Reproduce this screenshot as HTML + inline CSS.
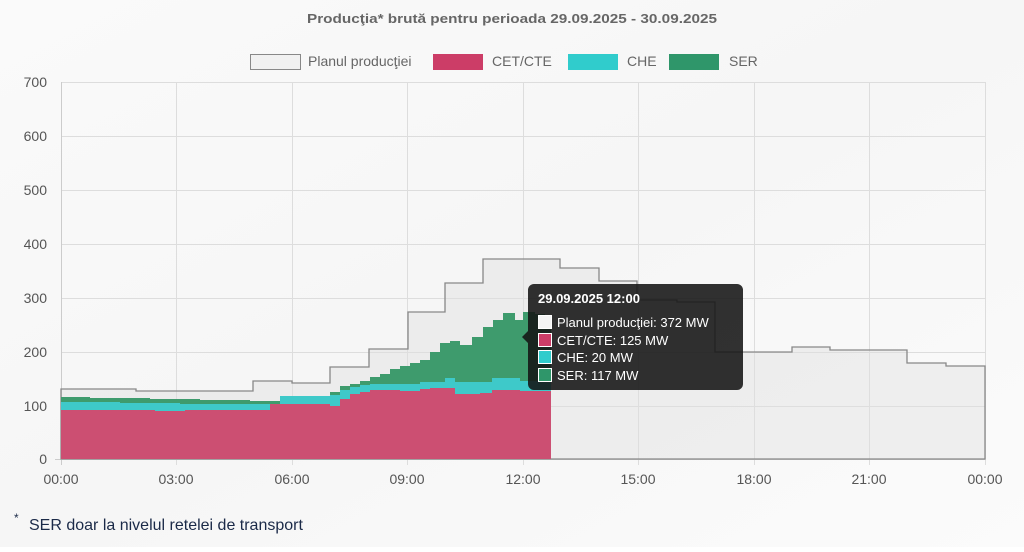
<!DOCTYPE html>
<html><head><meta charset="utf-8"><style>
html,body{margin:0;padding:0;background:#fff;}
body{width:1024px;height:547px;overflow:hidden;font-family:"Liberation Sans",sans-serif;}
</style></head><body>
<svg width="1024" height="547" viewBox="0 0 1024 547" xmlns="http://www.w3.org/2000/svg" font-family="Liberation Sans, sans-serif">
<defs>
<linearGradient id="bg" x1="0" y1="0" x2="1" y2="1">
<stop offset="0" stop-color="#fafafa"/><stop offset="0.5" stop-color="#f6f6f6"/><stop offset="1" stop-color="#fbfbfb"/>
</linearGradient>
</defs>
<rect width="1024" height="547" fill="url(#bg)"/>
<text x="512" y="23" text-anchor="middle" font-size="13" font-weight="bold" fill="#666" textLength="410" lengthAdjust="spacingAndGlyphs">Producţia* brută pentru perioada 29.09.2025 - 30.09.2025</text>
<!-- legend -->
<rect x="250.5" y="54.5" width="50" height="15" fill="#f1f1f1" stroke="#888"/>
<text x="308" y="66" font-size="14" fill="#666">Planul producţiei</text>
<rect x="433" y="54" width="50" height="16" fill="#cc3d67"/>
<text x="492" y="66" font-size="14" fill="#666">CET/CTE</text>
<rect x="568" y="54" width="50" height="16" fill="#30cccc"/>
<text x="627" y="66" font-size="14" fill="#666">CHE</text>
<rect x="669" y="54" width="50" height="16" fill="#2f966a"/>
<text x="729" y="66" font-size="14" fill="#666">SER</text>
<!-- grid -->
<g stroke="#ddd" stroke-width="1">
<line x1="61" y1="82.5" x2="985" y2="82.5"/><line x1="61" y1="136.5" x2="985" y2="136.5"/>
<line x1="61" y1="190.5" x2="985" y2="190.5"/><line x1="61" y1="244.5" x2="985" y2="244.5"/>
<line x1="61" y1="298.5" x2="985" y2="298.5"/><line x1="61" y1="352.5" x2="985" y2="352.5"/>
<line x1="61" y1="406.5" x2="985" y2="406.5"/>
<line x1="176.5" y1="82" x2="176.5" y2="465"/><line x1="292.5" y1="82" x2="292.5" y2="465"/>
<line x1="407.5" y1="82" x2="407.5" y2="465"/><line x1="523.5" y1="82" x2="523.5" y2="465"/>
<line x1="638.5" y1="82" x2="638.5" y2="465"/><line x1="754.5" y1="82" x2="754.5" y2="465"/>
<line x1="869.5" y1="82" x2="869.5" y2="465"/><line x1="985.5" y1="82" x2="985.5" y2="465"/>
</g>
<line x1="61.5" y1="82" x2="61.5" y2="465" stroke="#ccc"/>
<line x1="55" y1="459.5" x2="985" y2="459.5" stroke="#ccc"/>
<g font-size="14" fill="#555" text-anchor="end">
<text x="47" y="87">700</text><text x="47" y="141">600</text><text x="47" y="195">500</text>
<text x="47" y="249">400</text><text x="47" y="303">300</text><text x="47" y="357">200</text>
<text x="47" y="411">100</text><text x="47" y="464">0</text>
</g>
<g font-size="14" fill="#555" text-anchor="middle">
<text x="61" y="484">00:00</text><text x="176" y="484">03:00</text><text x="292" y="484">06:00</text>
<text x="407" y="484">09:00</text><text x="523" y="484">12:00</text><text x="638" y="484">15:00</text>
<text x="754" y="484">18:00</text><text x="869" y="484">21:00</text><text x="985" y="484">00:00</text>
</g>
<!-- plan -->
<path d="M61,459 V389 H136 V391 H253 V381 H292 V383 H330 V367 H369 V349 H408 V312 H445 V283 H483 V259 H560 V268 H599 V281 H637 V300 H677 V302 H715 V352 H792 V347 H830 V350 H907 V363 H946 V366 H985 V459 Z" fill="rgba(225,225,225,0.45)" stroke="#888" stroke-width="1.3"/>
<!-- SER -->
<path d="M61,459 V397 H90 V398 H150 V399 H200 V400 H250 V401 H280 V396 H330 V392 H340 V386 H350 V384 H360 V381 H370 V377 H380 V374 H390 V369 H400 V366 H410 V363 H420 V360 H430 V352 H440 V343 H450 V341 H460 V345 H472 V337 H483 V327 H493 V320 H503 V313 H515 V320 H523 V312 H535 V314 H545 V317 H551 V459 Z" fill="#3e9b6d"/>
<!-- CHE -->
<path d="M61,459 V402 H120 V403 H180 V404 H280 V396 H330 V395 H340 V390 H350 V387 H360 V385 H370 V384 H420 V382 H445 V378 H455 V382 H492 V378 H520 V381 H551 V459 Z" fill="#3ec9c9"/>
<!-- CET -->
<path d="M61,459 V410 H155 V411 H185 V410 H270 V404 H330 V406 H340 V399 H350 V394 H360 V392 H370 V390 H400 V391 H420 V389 H430 V388 H455 V394 H480 V393 H492 V390 H520 V391 H551 V459 Z" fill="#cc4f72"/>
<!-- tooltip -->
<path d="M534,284 H737 a6,6 0 0 1 6,6 V384 a6,6 0 0 1 -6,6 H534 a6,6 0 0 1 -6,-6 V343 l-6,-6 l6,-6 V290 a6,6 0 0 1 6,-6 Z" fill="rgba(20,20,20,0.88)"/>
<text x="538" y="303" font-size="13" font-weight="bold" fill="#fff">29.09.2025 12:00</text>
<g font-size="13" fill="#fff">
<rect x="538.5" y="315.5" width="13" height="13" fill="#f4f4f4" stroke="#fff"/>
<text x="557" y="327">Planul producţiei: 372 MW</text>
<rect x="538.5" y="333.5" width="13" height="13" fill="#cc3d67" stroke="#fff"/>
<text x="557" y="345">CET/CTE: 125 MW</text>
<rect x="538.5" y="350.5" width="13" height="13" fill="#30cccc" stroke="#fff"/>
<text x="557" y="362">CHE: 20 MW</text>
<rect x="538.5" y="368.5" width="13" height="13" fill="#2f966a" stroke="#fff"/>
<text x="557" y="380">SER: 117 MW</text>
</g>
<text x="14" y="522" font-size="12" fill="#1b2a48">*</text>
<text x="29" y="530" font-size="16" fill="#1b2a48">SER doar la nivelul retelei de transport</text>
</svg>
</body></html>
